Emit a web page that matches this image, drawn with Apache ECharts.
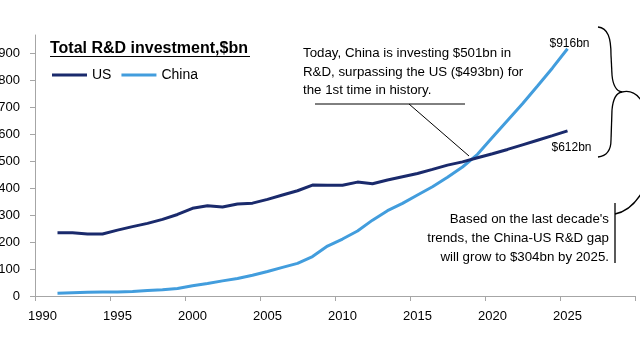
<!DOCTYPE html>
<html>
<head>
<meta charset="utf-8">
<script src="https://cdn.jsdelivr.net/npm/echarts@6/dist/echarts.min.js"></script>
<style>html,body{margin:0;padding:0;background:#fff}#c{width:640px;height:360px}</style>
</head>
<body>
<div id="c"></div>
<script>
const axisYears = ['1990','1991','1992','1993','1994','1995','1996','1997','1998','1999','2000','2001','2002','2003','2004','2005','2006','2007','2008','2009','2010','2011','2012','2013','2014','2015','2016','2017','2018','2019','2020','2021','2022','2023','2024','2025','2026','2027','2028','2029'];
const years = [1991,1992,1993,1994,1995,1996,1997,1998,1999,2000,2001,2002,2003,2004,2005,2006,2007,2008,2009,2010,2011,2012,2013,2014,2015,2016,2017,2018,2019,2020,2021,2022,2023,2024,2025];
const usValues = [234,234,230,230,244,257,269,284,302,325,334,330,341,344,358,374,390,411,410,410,422,416,430,442,454,469,485,497,512,527,543,560,577,594,612];
const chinaValues = [10,12,14,15,15,17,20,23,28,38,46,56,65,77,91,106,121,146,185,211,241,281,316,343,374,405,440,478,525,588,650,712,778,845,916];
const yTicks = [0,100,200,300,400,500,600,700,800,900];

const FONT = '"Liberation Sans", Arial, sans-serif';
const US_COLOR = '#1a2a6c';
const CN_COLOR = '#429ddd';

function buildData(vals, labelPos, dist, off) {
  return years.map((y, i) => {
    const item = { value: [String(y), vals[i]] };
    if (i === years.length - 1) {
      item.label = { show: true, position: labelPos, distance: dist, offset: off,
        formatter: p => '$' + p.value[1] + 'bn', color: '#000', fontSize: 12, fontFamily: FONT };
    }
    return item;
  });
}

function curve(x1, y1, cx1, cy1, cx2, cy2, x2, y2) {
  return { type: 'bezierCurve', shape: { x1: x1, y1: y1, cpx1: cx1, cpy1: cy1, cpx2: cx2, cpy2: cy2, x2: x2, y2: y2 },
    style: { stroke: '#000', lineWidth: 1.3, fill: null } };
}
function seg(x1, y1, x2, y2, w) {
  return { type: 'line', shape: { x1: x1, y1: y1, x2: x2, y2: y2 }, style: { stroke: '#000', lineWidth: w || 1 } };
}

const chart = echarts.init(document.getElementById('c'), null, { renderer: 'canvas' });
chart.setOption({
  animation: false,
  backgroundColor: '#fff',
  grid: { left: 35, right: 5, top: 35, bottom: 64, containLabel: false, outerBoundsMode: 'none' },
  legend: {
    left: 47, top: 63, icon: 'rect', itemWidth: 35, itemHeight: 3, itemGap: 10,
    textStyle: { fontSize: 14, fontFamily: FONT, color: '#000' },
    data: ['US', 'China']
  },
  xAxis: {
    type: 'category', data: axisYears, boundaryGap: true,
    axisLine: { lineStyle: { color: '#a6a6a6', width: 1 } },
    axisTick: { show: true, interval: 4, length: 5, lineStyle: { color: '#a6a6a6' } },
    axisLabel: { interval: 4, color: '#000', fontSize: 13, fontFamily: FONT, margin: 14 },
    splitLine: { show: false }
  },
  yAxis: {
    type: 'value', min: 0, max: 967, interval: 100,
    axisLine: { show: true, lineStyle: { color: '#a6a6a6', width: 1 } },
    axisTick: { show: true, length: 5, customValues: yTicks, lineStyle: { color: '#a6a6a6' } },
    axisLabel: { color: '#000', fontSize: 13, fontFamily: FONT, margin: 15, customValues: yTicks },
    splitLine: { show: false }
  },
  series: [
    { name: 'US', type: 'line', data: buildData(usValues, 'bottom', 11, [4, 0]),
      showSymbol: true, symbol: 'circle', symbolSize: 0,
      lineStyle: { color: US_COLOR, width: 3 }, itemStyle: { color: US_COLOR }, z: 3 },
    { name: 'China', type: 'line', data: buildData(chinaValues, 'top', 0, [2, 1]),
      showSymbol: true, symbol: 'circle', symbolSize: 0,
      lineStyle: { color: CN_COLOR, width: 3 }, itemStyle: { color: CN_COLOR }, z: 2 }
  ],
  graphic: [
    { type: 'text', x: 50, y: 41, style: { text: 'Total R&D investment,$bn', font: 'bold 16px ' + FONT, fill: '#000' } },
    seg(50, 56.5, 250, 56.5, 1),
    { type: 'text', x: 303, y: 44.5, style: { text: 'Today, China is investing $501bn in\nR&D, surpassing the US ($493bn) for\nthe 1st time in history.', font: '13.3px ' + FONT, fill: '#000', lineHeight: 18.5 } },
    seg(315, 104, 465, 104, 1),
    seg(409, 104, 469, 156, 1),
    curve(598, 27, 608, 28, 611, 38, 611, 55),
    seg(611, 55, 612, 75, 1.3),
    curve(612, 75, 613, 86, 616, 91, 622, 92),
    curve(622, 92, 616, 93, 613, 98, 612, 110),
    seg(612, 110, 611, 140, 1.3),
    curve(611, 140, 611, 150, 607, 156, 598, 157),
    curve(622, 92, 630, 90, 636, 93, 641, 100),
    curve(615, 214, 625, 212, 634, 205, 641, 194),
    seg(615, 203, 615, 263, 1.3),
    { type: 'text', x: 609, y: 210, style: { text: "Based on the last decade's\ntrends, the China-US R&D gap\nwill grow to $304bn by 2025.", font: '13.3px ' + FONT, fill: '#000', lineHeight: 19, align: 'right' } }
  ]
});
</script>
</body>
</html>
